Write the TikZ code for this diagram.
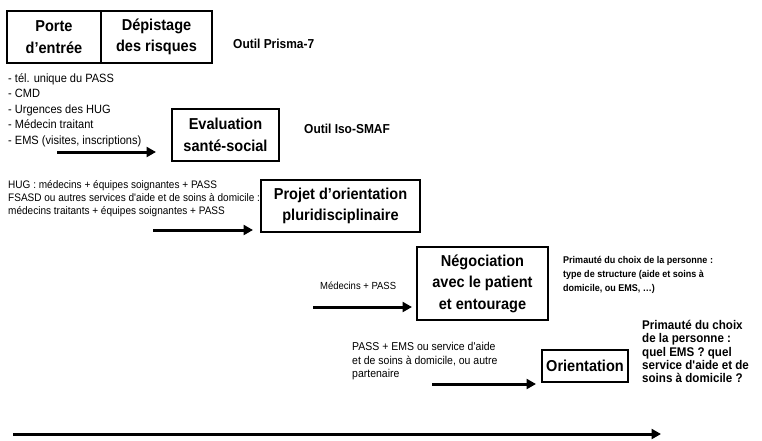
\documentclass[tikz,border=0pt]{standalone}
\usepackage{fontspec}
\setmainfont{Liberation Sans}[FakeStretch=0.92]
\usetikzlibrary{arrows.meta}
\begin{document}
\begin{tikzpicture}[x=1pt,y=-1pt,
  box/.style={draw, line width=1.8pt, inner sep=0pt, align=center, font=\bfseries\fontsize{15.8}{21.5}\selectfont},
  arr/.style={line width=3pt, -{Triangle[length=9.5pt,width=10pt]}},
  lbl/.style={inner sep=0pt, anchor=west, align=left}]
\useasboundingbox (0,0) rectangle (762,440);
% boxes
\node[box, minimum width=94pt, minimum height=52pt] (porte) at (54,37) {Porte\\d’entrée};
\node[box, minimum width=111pt, minimum height=52pt] (depist) at (156.5,37) {Dépistage\\des risques};
\node[box, minimum width=107pt, minimum height=52pt] (eval) at (225.5,135) {Evaluation\\santé-social};
\node[box, minimum width=159pt, minimum height=52pt] (projet) at (340.5,206) {Projet d’orientation\\pluridisciplinaire};
\node[box, minimum width=131pt, minimum height=73pt] (nego) at (482.5,283.5) {Négociation\\avec le patient\\et entourage};
\node[box, minimum width=86pt, minimum height=32pt] (orient) at (585,366) {Orientation};
% labels
\node[lbl, font=\bfseries\fontsize{13}{14}\selectfont] (prisma) at (233,44) {Outil Prisma-7};
\node[lbl, font=\bfseries\fontsize{13}{14}\selectfont] (iso) at (304,129) {Outil Iso-SMAF};
\node[lbl, font=\fontsize{12}{15.5}\selectfont] (liste) at (8,110) {- tél. unique du PASS\\- CMD\\- Urgences des HUG\\- Médecin traitant\\- EMS (visites, inscriptions)};
\node[lbl, font=\fontsize{10.9}{13}\selectfont] (hug) at (8,199) {HUG : médecins + équipes soignantes + PASS\\FSASD ou autres services d\textquotesingle aide et de soins à domicile :\\médecins traitants + équipes soignantes + PASS};
\node[lbl, font=\fontsize{10.3}{12}\selectfont] (med) at (320,286) {Médecins + PASS};
\node[lbl, font=\bfseries\fontsize{9.8}{14}\selectfont] (prim1) at (563,275) {Primauté du choix de la personne :\\type de structure (aide et soins à\\domicile, ou EMS, …)};
\node[lbl, font=\fontsize{11.4}{13.5}\selectfont] (pass) at (352,361.5) {PASS + EMS ou service d\textquotesingle aide\\et de soins à domicile, ou autre\\partenaire};
\node[lbl, font=\bfseries\fontsize{12.6}{13.4}\selectfont] (prim2) at (642,351.5) {Primauté du choix\\de la personne :\\quel EMS ? quel\\service d\textquotesingle aide et de\\soins à domicile ?};
% arrows
\coordinate (a1s) at (57,152); \coordinate (a1e) at (156,152);
\coordinate (a2s) at (153,230); \coordinate (a2e) at (253,230);
\coordinate (a3s) at (313,307); \coordinate (a3e) at (412,307);
\coordinate (a4s) at (432,384); \coordinate (a4e) at (536,384);
\coordinate (a5s) at (13,434); \coordinate (a5e) at (661,434);
\draw[arr] (a1s) -- (a1e);
\draw[arr] (a2s) -- (a2e);
\draw[arr] (a3s) -- (a3e);
\draw[arr] (a4s) -- (a4e);
\draw[arr] (a5s) -- (a5e);
\end{tikzpicture}
\end{document}
